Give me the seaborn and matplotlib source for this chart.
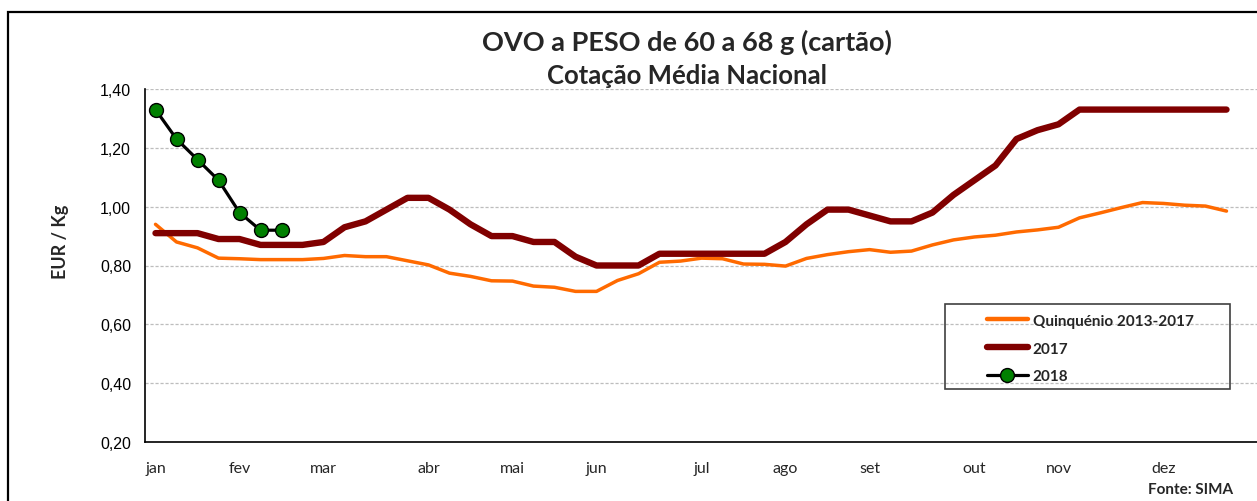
import matplotlib
matplotlib.use("Agg")
import matplotlib.pyplot as plt
import matplotlib.patches as mpatches
import matplotlib.ticker as mticker
import numpy as np
import pandas as pd
import seaborn as sns

# ---------------- data ----------------
month_labels = ["jan", "fev", "mar", "abr", "mai", "jun", "jul", "ago", "set", "out", "nov", "dez"]
month_weeks = [0, 4, 8, 13, 17, 21, 26, 30, 34, 39, 43, 48]

quinquenio = [0.94, 0.88, 0.86, 0.825, 0.823, 0.82, 0.82, 0.82, 0.824, 0.834, 0.83, 0.83,
              0.816, 0.802, 0.774, 0.763, 0.748, 0.747, 0.730, 0.726, 0.712, 0.712, 0.749, 0.772,
              0.811, 0.815, 0.825, 0.823, 0.805, 0.804, 0.798, 0.824, 0.837, 0.847, 0.854, 0.845,
              0.849, 0.870, 0.887, 0.897, 0.903, 0.914, 0.921, 0.930, 0.962, 0.979, 0.997, 1.014,
              1.011, 1.005, 1.002, 0.985]
y2017 = [0.91, 0.91, 0.91, 0.89, 0.89, 0.87, 0.87, 0.87, 0.88, 0.93, 0.95, 0.99,
         1.03, 1.03, 0.99, 0.94, 0.90, 0.90, 0.88, 0.88, 0.83, 0.80, 0.80, 0.80,
         0.84, 0.84, 0.84, 0.84, 0.84, 0.84, 0.88, 0.94, 0.99, 0.99, 0.97, 0.95,
         0.95, 0.98, 1.04, 1.09, 1.14, 1.23, 1.26, 1.28, 1.33, 1.33, 1.33, 1.33,
         1.33, 1.33, 1.33, 1.33]
y2018 = [1.33, 1.23, 1.16, 1.09, 0.98, 0.92, 0.92]

series_names = ["Quinquénio 2013-2017", "2017", "2018"]

# ---------------- style ----------------
sns.set_style("white")
plt.rcParams["font.family"] = ["Lato", "DejaVu Sans"]

W, H = 1257, 502
fig = plt.figure(figsize=(W / 100, H / 100), dpi=100)
ax_left, ax_right, ax_top, ax_bottom = 145, 1258, 90, 443
ax = fig.add_axes([ax_left / W, 1 - ax_bottom / H, (ax_right - ax_left) / W, (ax_bottom - ax_top) / H])

df_q = pd.DataFrame({"week": np.arange(len(quinquenio)), "value": quinquenio})
df_17 = pd.DataFrame({"week": np.arange(len(y2017)), "value": y2017})
df_18 = pd.DataFrame({"week": np.arange(len(y2018)), "value": y2018})

sns.lineplot(data=df_q, x="week", y="value", ax=ax, color="#FF6A00", linewidth=2.5,
             label=series_names[0], zorder=3)
sns.lineplot(data=df_17, x="week", y="value", ax=ax, color="#800000", linewidth=4.6,
             label=series_names[1], zorder=4, solid_capstyle="round")
sns.lineplot(data=df_18, x="week", y="value", ax=ax, color="black", linewidth=2.3,
             marker="o", markersize=10, markerfacecolor="#008000", markeredgecolor="black",
             markeredgewidth=1.0, label=series_names[2], zorder=5)

ax.set_xlim(-0.5, 52.5)
ax.set_ylim(0.2, 1.4)
ax.set_yticks(np.arange(0.2, 1.41, 0.2))
ax.yaxis.set_major_formatter(mticker.FuncFormatter(lambda v, p: f"{v:.2f}".replace(".", ",")))
ax.tick_params(axis="y", direction="in", length=4, width=1, labelsize=11.5, pad=10, colors="black")
for lab in ax.get_yticklabels():
    lab.set_fontfamily(["Liberation Sans", "DejaVu Sans"])

ax.set_xticks(month_weeks)
ax.set_xticklabels(month_labels)
ax.set_xticks(np.arange(0.5, 52, 1.0), minor=True)
ax.tick_params(axis="x", which="major", length=0, labelsize=11.5, pad=14)
ax.tick_params(axis="x", which="minor", direction="in", length=4, width=1, color="black")

ax.grid(axis="y", color="#BDBDBD", linestyle=(0, (2.5, 1.5)), linewidth=0.9)
ax.grid(axis="x", visible=False)
ax.set_axisbelow(True)

for s in ["top", "right"]:
    ax.spines[s].set_visible(False)
for s in ["left", "bottom"]:
    ax.spines[s].set_color("black")
    ax.spines[s].set_linewidth(1.2)

ax.set_xlabel("")
ax.set_ylabel("EUR / Kg", fontsize=13, fontweight="bold")
ax.yaxis.set_label_coords(-76 / 1113, (443 - 242) / 353)

# legend with separate box
leg = ax.legend(loc="upper left", bbox_to_anchor=(973 / W, 1 - 301 / H),
                bbox_transform=fig.transFigure, frameon=False,
                handlelength=2.7, handletextpad=0.3, labelspacing=0.9,
                prop={"weight": "bold", "size": 11})
for h in leg.get_lines()[:1]:
    h.set_linewidth(3.2)
fig.patches.append(mpatches.Rectangle((945 / W, 1 - 390 / H), 285 / W, 85 / H,
                                      transform=fig.transFigure, fill=False,
                                      edgecolor="#404040", linewidth=1.2))

# outer frame
fig.patches.append(mpatches.Rectangle((8 / W, -0.2), 1.2, 1.2 - 13 / H,
                                      transform=fig.transFigure, fill=False,
                                      edgecolor="black", linewidth=1.6))

# titles
fig.text(687 / W, 1 - 42 / H, "OVO a PESO de 60 a 68 g (cartão)", ha="center", va="center",
         fontsize=19.5, fontweight="bold")
fig.text(687 / W, 1 - 76 / H, "Cotação Média Nacional", ha="center", va="center",
         fontsize=18.5, fontweight="bold")
fig.text(1233 / W, 1 - 490 / H, "Fonte: SIMA", ha="right", va="center",
         fontsize=11, fontweight="bold")

fig.savefig("out.png", dpi=100)
